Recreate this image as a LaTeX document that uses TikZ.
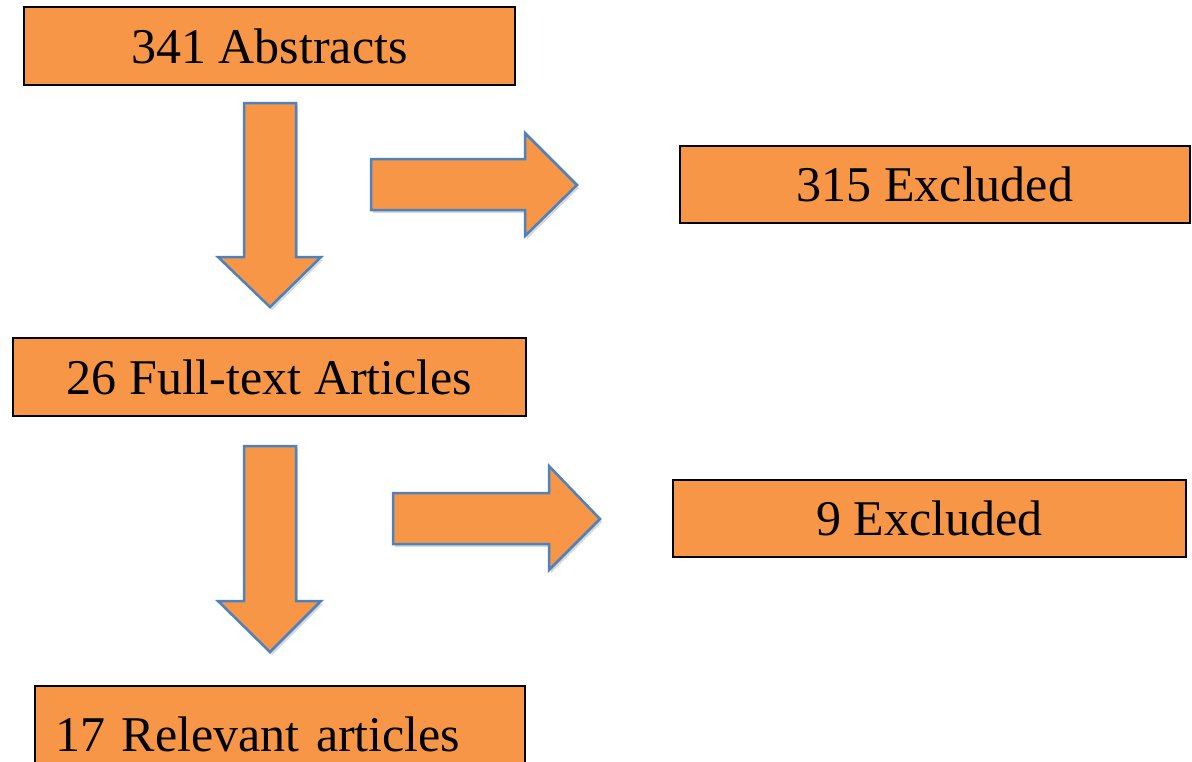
\documentclass[tikz,border=0pt]{standalone}
\usepackage{fontspec}
\setmainfont{Liberation Serif}
\usetikzlibrary{shadows}
\definecolor{boxfill}{HTML}{F79646}
\definecolor{arrowline}{HTML}{4F81BD}
\begin{document}
\begin{tikzpicture}[x=1pt,y=-1pt,
  box/.style={draw=black, line width=2pt, fill=boxfill, inner sep=0pt, outer sep=0pt,
    anchor=north west, text height=34pt, text depth=0pt, font=\fontsize{50}{60}\selectfont},
  blockarrow/.style={draw=arrowline, line width=2.5pt, fill=boxfill, line join=miter,
    drop shadow={opacity=0.25, shadow xshift=2pt, shadow yshift=-3pt, fill=black!60}}]
\useasboundingbox (0,0) rectangle (1192,761);
\clip (0,0) rectangle (1192,761);
% boxes
\node[box, minimum width=491pt, minimum height=78pt] (abs) at (24,7) {341 Abstracts};
\node[box, minimum width=510pt, minimum height=77pt] (exc1) at (680,146) {315 Excluded};
\node[box, minimum width=513pt, minimum height=78pt] (full) at (13,338) {26 Full-text Articles};
\node[box, minimum width=513pt, minimum height=77pt] (exc2) at (673,480) {9 Excluded};
\node[box, minimum width=490pt, minimum height=77pt, text width=450pt, align=left,
  inner xsep=20pt, text height=53pt] (rel) at (35,686) {17 Relevant articles};
% block arrows
\draw[blockarrow] (244,103) -- (296,103) -- (296,257) -- (321,257) -- (270,307) -- (218,257) -- (244,257) -- cycle;
\draw[blockarrow] (371,159) -- (525,159) -- (525,133) -- (577,185) -- (525,236) -- (525,210) -- (371,210) -- cycle;
\draw[blockarrow] (244,446) -- (296,446) -- (296,601) -- (321,601) -- (270,652) -- (218,601) -- (244,601) -- cycle;
\draw[blockarrow] (393,493) -- (549,493) -- (549,466) -- (600,519) -- (549,570) -- (549,544) -- (393,544) -- cycle;
\end{tikzpicture}
\end{document}
